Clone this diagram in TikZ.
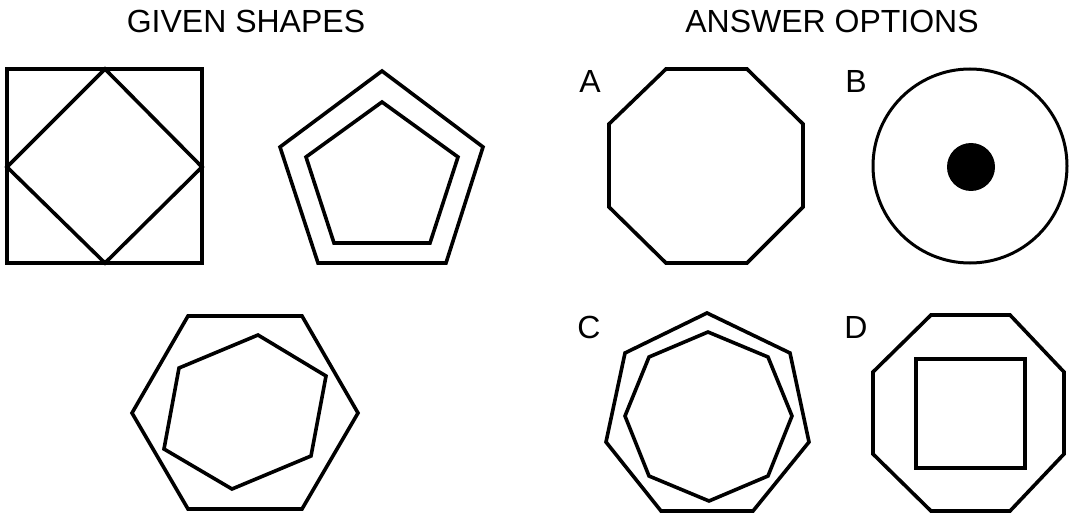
\documentclass[tikz,border=0pt]{standalone}
\usepackage{fontspec}
\setmainfont{Liberation Sans}
\begin{document}
\begin{tikzpicture}[x=1pt,y=-1pt,
  shp/.style={draw=black,line width=3.6pt,line join=miter},
  title/.style={font=\fontsize{32}{36}\selectfont,anchor=base,inner sep=0pt},
  lbl/.style={font=\fontsize{32}{36}\selectfont,anchor=base,inner sep=0pt}]
\useasboundingbox[fill=white] (0,0) rectangle (1069,516);
% titles
\node[title] (t1) at (246,33) {GIVEN SHAPES};
\node[title] (t2) at (832,33) {ANSWER OPTIONS};
% square with diamond
\draw[shp] (7,69) rectangle (202,263);
\draw[shp] (105,69) -- (202,167) -- (105,263) -- (7,167) -- cycle;
% pentagons
\draw[shp] (382,71) -- (483,147) -- (446,263) -- (318,263) -- (280,147) -- cycle;
\draw[shp] (382,102) -- (458,157) -- (430,243) -- (334,243) -- (306,157) -- cycle;
% hexagons
\draw[shp] (188,316) -- (302,316) -- (358,413) -- (302,509) -- (188,509) -- (132,413) -- cycle;
\draw[shp] (258,335) -- (326,376) -- (311,456) -- (232,489) -- (164,449) -- (179,368) -- cycle;
% labels
\node[lbl] (la) at (590,93) {A};
\node[lbl] (lb) at (856,93) {B};
\node[lbl] (lc) at (589,338) {C};
\node[lbl] (ld) at (856,338) {D};
% A octagon
\draw[shp] (666,69) -- (747,69) -- (803,124) -- (803,207) -- (747,263) -- (666,263) -- (609,207) -- (609,124) -- cycle;
% B circle
\draw[shp,line width=3pt] (970,166) circle (97);
\fill[black] (971,167) circle (24);
% C heptagon + octagon
\draw[shp] (707,313) -- (790,353) -- (809,442) -- (753,511) -- (661,511) -- (606,442) -- (625,353) -- cycle;
\draw[shp] (708,332) -- (768,357) -- (792,416) -- (768,476) -- (709,501) -- (649,476) -- (625,416) -- (649,357) -- cycle;
% D octagon + square
\draw[shp] (931,315) -- (1010,315) -- (1064,372) -- (1064,454) -- (1010,511) -- (931,511) -- (873,454) -- (873,372) -- cycle;
\draw[shp] (916,359) rectangle (1025,468);
\end{tikzpicture}
\end{document}
